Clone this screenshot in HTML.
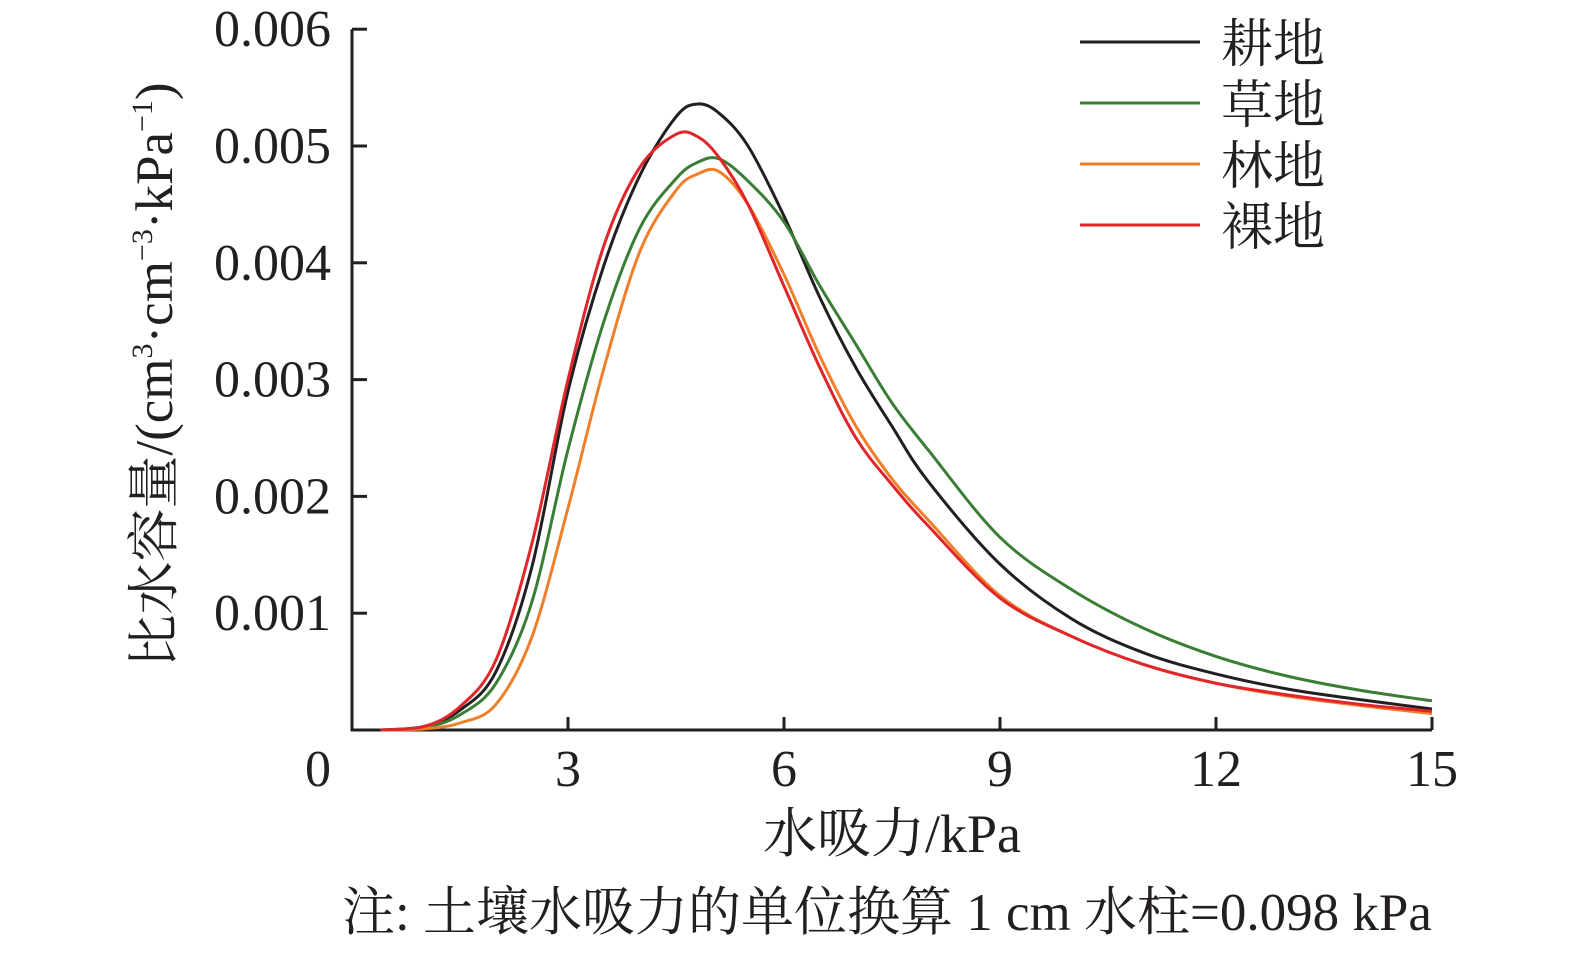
<!DOCTYPE html>
<html><head><meta charset="utf-8"><style>
body{margin:0;background:#fff;}
svg text{font-family:"Liberation Serif","Noto Serif CJK SC",serif;fill:#231f20;}
</style></head><body>
<svg id="chart" width="1575" height="949" xmlns="http://www.w3.org/2000/svg">
<g id="axes"></g><g id="series"></g><g id="legend"></g>
<text transform="translate(172,375) rotate(-90)" text-anchor="middle" font-size="53">比水容量/(cm<tspan font-size="30" dy="-20">3</tspan><tspan dy="20">·cm</tspan><tspan font-size="30" dy="-20">−3</tspan><tspan dy="20">·kPa</tspan><tspan font-size="30" dy="-20">−1</tspan><tspan dy="20">)</tspan></text>
<text x="892" y="852" text-anchor="middle" font-size="54">水吸力/kPa</text>
<text x="887" y="930" text-anchor="middle" font-size="53">注: 土壤水吸力的单位换算 1 cm 水柱=0.098 kPa</text>
</svg>
<script>
const xs=[0.4,1,1.5,2,2.5,3,3.5,4,4.5,4.8,5.1,5.5,6,6.5,7,7.5,8,9,10,11,12,13,14,15];
const gengdi=[0,0.00003,0.00017,0.0005,0.0014,0.0029,0.00398,0.00475,0.00525,0.00536,0.00528,0.0050,0.0044,0.0037,0.0031,0.0026,0.00213,0.00142,0.00095,0.00066,0.00048,0.00035,0.00026,0.00018];
const caodi=[0,0.00002,0.00013,0.0004,0.0011,0.0024,0.0035,0.0043,0.00472,0.00486,0.00489,0.0047,0.00435,0.0038,0.0033,0.0028,0.0024,0.00165,0.0012,0.00087,0.00063,0.00046,0.00034,0.00025];
const lindi=[0,0.00001,0.00006,0.00022,0.0008,0.0019,0.0031,0.0041,0.00462,0.00476,0.00478,0.0045,0.0039,0.0032,0.0026,0.00215,0.0018,0.00115,0.0008,0.00056,0.0004,0.00029,0.00021,0.00014];
const ludi=[0,0.00003,0.0002,0.0006,0.0016,0.0030,0.00415,0.00482,0.0051,0.00508,0.0049,0.0045,0.0038,0.0031,0.0025,0.0021,0.00175,0.00113,0.0008,0.00056,0.0004,0.0003,0.00022,0.00016];
const seriesNames=['耕地','草地','林地','裸地'];
const seriesColors=['#231f20','#3a7d34','#f07f2a','#e0262b'];
const xTicks=[0,3,6,9,12,15];
const yTicks=[0.001,0.002,0.003,0.004,0.005,0.006];
const yTickLabels=['0.001','0.002','0.003','0.004','0.005','0.006'];
const NS='http://www.w3.org/2000/svg';
const X=v=>352+v*72, Y=v=>730-v*116.8*1000;
function mk(t,a,p){const e=document.createElementNS(NS,t);for(const k in a)e.setAttribute(k,a[k]);p.appendChild(e);return e;}
const ax=document.getElementById('axes');
let l=mk('path',{d:`M${X(0)},${Y(0.006)}V${Y(0)}H${X(15)}`,stroke:'#231f20','stroke-width':3,fill:'none'},ax);


xTicks.forEach(t=>{
 if(t>0){const tk=mk('line',{x1:X(t),x2:X(t),y1:Y(0),y2:Y(0)-13,stroke:'#231f20','stroke-width':3},ax);
 
 }
 const tx=mk('text',{x:t==0?X(t)-34:X(t),y:786,'text-anchor':'middle','font-size':52},ax);tx.textContent=t;
 
 
});
yTicks.forEach((t,i)=>{
 const tk=mk('line',{x1:X(0),x2:X(0)+15,y1:Y(t),y2:Y(t),stroke:'#231f20','stroke-width':3},ax);
 
 
 const tx=mk('text',{x:331,y:Y(t)+17,'text-anchor':'end','font-size':52},ax);tx.textContent=yTickLabels[i];
 
 
});
function smooth(ys){const p=xs.map((x,i)=>[X(x),Y(ys[i])]);let d=`M${p[0][0]},${p[0][1]}`;
 for(let i=0;i<p.length-1;i++){const p0=p[i-1]||p[i],p1=p[i],p2=p[i+1],p3=p[i+2]||p2;
 d+=`C${p1[0]+(p2[0]-p0[0])/6},${p1[1]+(p2[1]-p0[1])/6} ${p2[0]-(p3[0]-p1[0])/6},${p2[1]-(p3[1]-p1[1])/6} ${p2[0]},${p2[1]}`;}return d;}
const sg=document.getElementById('series'),lg=document.getElementById('legend');
[gengdi,caodi,lindi,ludi].forEach((ys,i)=>{
 const p=mk('path',{d:smooth(ys),stroke:seriesColors[i],'stroke-width':3,fill:'none'},sg);
 
 
 const ly=42+i*61;
 const ll=mk('line',{x1:1080,x2:1200,y1:ly,y2:ly,stroke:seriesColors[i],'stroke-width':3},lg);
 
 
 const lt=mk('text',{x:1221,y:ly+20,'font-size':52},lg);lt.textContent=seriesNames[i];
 
 
});
</script>
</body></html>
